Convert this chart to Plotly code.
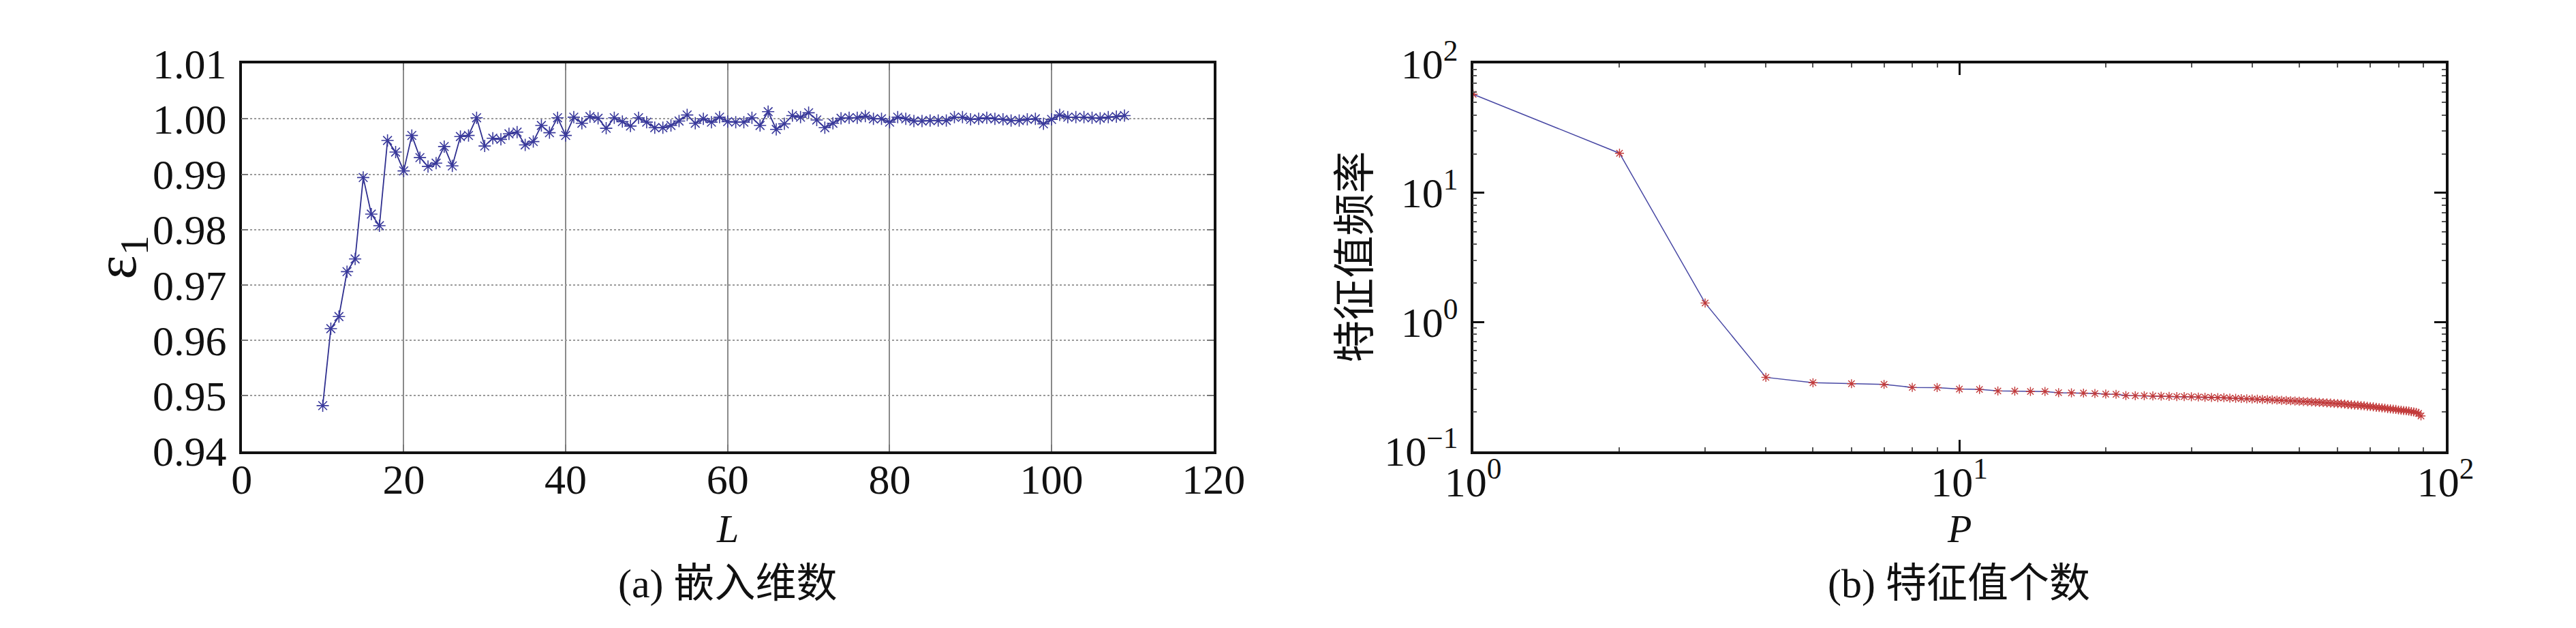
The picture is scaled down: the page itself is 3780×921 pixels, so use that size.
import plotly.graph_objects as go

# (a) embedding dimension L vs epsilon_1
dims = list(range(10, 110))
eps1 = [
    0.9482, 0.9621, 0.9643, 0.9724, 0.9747, 0.9894, 0.9828, 0.9807, 0.9961, 0.9940,
    0.9906, 0.9970, 0.9930, 0.9914, 0.9920, 0.9950, 0.9915, 0.9968, 0.9970, 1.0002,
    0.9951, 0.9965, 0.9963, 0.9973, 0.9976, 0.9953, 0.9959, 0.9988, 0.9975, 1.0002,
    0.9970, 1.0003, 0.9992, 1.0004, 1.0001, 0.9983, 1.0002, 0.9995, 0.9987, 1.0002,
    0.9994, 0.9984, 0.9984, 0.9988, 0.9996, 1.0007, 0.9992, 1.0000, 0.9994, 1.0003,
    0.9995, 0.9994, 0.9994, 1.0002, 0.9988, 1.0013, 0.9981, 0.9991, 1.0006, 1.0003,
    1.0011, 0.9998, 0.9984, 0.9992, 1.0001, 1.0002, 1.0002, 1.0005, 1.0000, 1.0000,
    0.9994, 1.0003, 1.0000, 0.9996, 0.9996, 0.9997, 0.9997, 0.9997, 1.0003, 1.0003,
    0.9999, 1.0000, 1.0002, 1.0000, 0.9999, 0.9997, 0.9997, 0.9999, 1.0000, 0.9991,
    0.9999, 1.0007, 1.0003, 1.0003, 1.0003, 1.0002, 1.0001, 1.0003, 1.0004, 1.0006,
]

# (b) eigenvalue index P vs eigenvalue frequency
counts = list(range(1, 90))
freq = [
    57.8, 20.2, 1.40, 0.372, 0.338, 0.332, 0.328, 0.311, 0.310, 0.302,
    0.300, 0.292, 0.291, 0.289, 0.289, 0.283, 0.282, 0.281, 0.279, 0.276,
    0.275, 0.269, 0.268, 0.268, 0.267, 0.266, 0.265, 0.264, 0.264, 0.263,
    0.262, 0.261, 0.260, 0.259, 0.259, 0.257, 0.256, 0.255, 0.254, 0.253,
    0.252, 0.251, 0.250, 0.249, 0.248, 0.247, 0.246, 0.245, 0.244, 0.243,
    0.242, 0.241, 0.240, 0.239, 0.238, 0.237, 0.236, 0.235, 0.234, 0.233,
    0.232, 0.231, 0.229, 0.228, 0.227, 0.226, 0.225, 0.224, 0.222, 0.221,
    0.220, 0.218, 0.217, 0.216, 0.215, 0.213, 0.212, 0.211, 0.210, 0.208,
    0.207, 0.206, 0.205, 0.204, 0.202, 0.201, 0.199, 0.196, 0.187,
]

y_ticks_a = [0.94, 0.95, 0.96, 0.97, 0.98, 0.99, 1.00, 1.01]
x_ticks_a = [0, 20, 40, 60, 80, 100, 120]
log_ticks = [0.1, 1, 10, 100]
log_labels = ["10<sup>−1</sup>", "10<sup>0</sup>", "10<sup>1</sup>", "10<sup>2</sup>"]
minor_x = [2, 3, 4, 5, 6, 7, 8, 9, 20, 30, 40, 50, 60, 70, 80, 90]
minor_y = [0.2, 0.3, 0.4, 0.5, 0.6, 0.7, 0.8, 0.9] + minor_x

W, H = 3780, 921
SERIF = "Liberation Serif, Times New Roman, Noto Sans CJK SC, serif"
CJK = "Liberation Serif, Noto Sans CJK SC, serif"

fig = go.Figure()

fig.add_trace(go.Scatter(
    x=dims, y=eps1, mode="lines+markers",
    line=dict(color="#2f2f8f", width=1.8),
    marker=dict(symbol="asterisk-open", size=15, color="#3a3a9c",
                line=dict(color="#3a3a9c", width=1.6)),
    xaxis="x", yaxis="y", showlegend=False,
))

fig.add_trace(go.Scatter(
    x=counts, y=freq, mode="lines+markers",
    line=dict(color="#4848a4", width=1.5),
    marker=dict(symbol="asterisk-open", size=11, color="#c23a3a",
                line=dict(color="#c23a3a", width=1.4)),
    xaxis="x2", yaxis="y2", showlegend=False,
))

left_x = (312 / W, 1772 / W)
right_x = (2162 / W, 3623 / W)
dom_y = (1 - 667 / H, 1 - 46 / H)

axis_common = dict(
    showline=True, linecolor="#111111", linewidth=3.5, mirror="allticks",
    ticks="inside", tickfont=dict(family=SERIF, size=62, color="#111111"),
    zeroline=False,
)

fig.update_layout(
    width=W, height=H,
    paper_bgcolor="white", plot_bgcolor="white",
    margin=dict(l=0, r=0, t=0, b=0),
    xaxis=dict(
        domain=left_x, range=[0, 120], tickvals=x_ticks_a,
        showgrid=True, gridcolor="#8a8a8a", gridwidth=1.5,
        ticklen=10, tickwidth=2, tickcolor="#777777", ticklabelstandoff=-16,
        anchor="y", **axis_common,
    ),
    yaxis=dict(
        domain=dom_y, range=[0.94, 1.01], tickvals=y_ticks_a, tickformat=".2f",
        showgrid=True, gridcolor="#9a9a9a", gridwidth=1.5, griddash="dot",
        ticklen=10, tickwidth=2, tickcolor="#777777", ticklabelstandoff=6,
        anchor="x", **axis_common,
    ),
    xaxis2=dict(
        domain=right_x, type="log", range=[0, 2],
        tickvals=log_ticks[1:], ticktext=log_labels[1:],
        showgrid=False, ticklen=17, tickwidth=3, tickcolor="#111111",
        ticklabelstandoff=-12,
        minor=dict(tickvals=minor_x, ticks="inside", ticklen=6, tickwidth=1.5,
                   tickcolor="#555555", showgrid=False),
        anchor="y2", **axis_common,
    ),
    yaxis2=dict(
        domain=dom_y, type="log", range=[-1, 2],
        tickvals=log_ticks, ticktext=log_labels,
        showgrid=False, ticklen=17, tickwidth=3, tickcolor="#111111",
        ticklabelstandoff=6,
        minor=dict(tickvals=minor_y, ticks="inside", ticklen=6, tickwidth=1.5,
                   tickcolor="#555555", showgrid=False),
        anchor="x2", **axis_common,
    ),
)

notes = [
    dict(text="ε<sub>1</sub>", x=130, y=356, size=84, angle=-90, font=SERIF),
    dict(text="特征值频率", x=1985, y=356, size=62, angle=-90, font=CJK),
    dict(text="<i>L</i>", x=1042, y=792, size=58, angle=0, font=SERIF),
    dict(text="<i>P</i>", x=2892, y=792, size=58, angle=0, font=SERIF),
    dict(text="(a) 嵌入维数", x=1042, y=880, size=60, angle=0, font=CJK),
    dict(text="(b) 特征值个数", x=2892, y=880, size=60, angle=0, font=CJK),
]
for n in notes:
    fig.add_annotation(
        text=n["text"], x=n["x"] / W, y=1 - n["y"] / H,
        xref="paper", yref="paper", xanchor="center", yanchor="middle",
        textangle=n["angle"], showarrow=False,
        font=dict(family=n["font"], size=n["size"], color="#111111"),
    )

fig.write_html("out.html")
